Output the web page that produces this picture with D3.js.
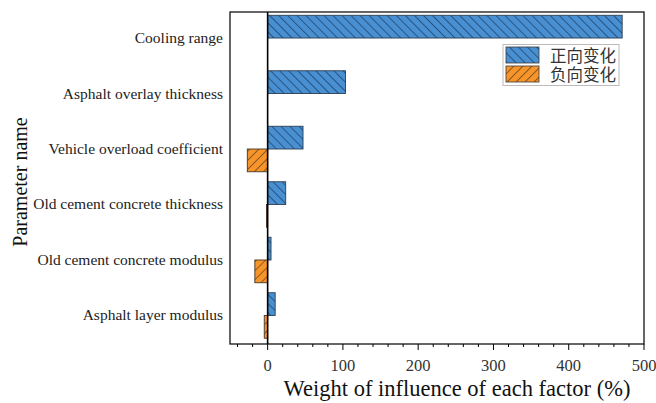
<!DOCTYPE html>
<html><head><meta charset="utf-8">
<script src="https://cdn.jsdelivr.net/npm/d3@7"></script>
<style>body{margin:0;background:#fff}</style>
</head><body>
<svg id="c" width="656" height="403"></svg>
<script>
const categories = ["Cooling range","Asphalt overlay thickness","Vehicle overload coefficient","Old cement concrete thickness","Old cement concrete modulus","Asphalt layer modulus"];
const positive = [471, 103.5, 47, 24, 4.5, 10];
const negative = [0, 0, -27, -1.5, -17, -4.5];
const xTicks = [0,100,200,300,400,500];
const seriesNames = ["正向变化","负向变化"];

const svg = d3.select("#c");
const L=230,R=644,T=12,B=344;
const x = d3.scaleLinear().domain([-50,500]).range([L,R]);
const y = d3.scaleBand().domain(categories).range([T+0.5,B-3]).paddingInner(0.18).paddingOuter(0.05);
const SERIF = "'Liberation Serif','Times New Roman',serif";

const defs = svg.append("defs");
function hatch(id,color,dir,lc){
  const w=6.4;
  const p = defs.append("pattern").attr("id",id).attr("patternUnits","userSpaceOnUse")
    .attr("width",w).attr("height",w).attr("patternTransform",`rotate(${dir})`);
  p.append("rect").attr("width",w).attr("height",w).attr("fill",color);
  p.append("line").attr("x1",0.5).attr("y1",0).attr("x2",0.5).attr("y2",w).attr("stroke",lc).attr("stroke-opacity",0.75).attr("stroke-width",0.9);
}
hatch("hb","#4890d2",-45,"#1a3558");
hatch("ho","#f7952a",45,"#5a3c18");

const g = svg.append("g");
const bh = y.bandwidth()/2;
g.selectAll(".p").data(categories).join("rect")
  .attr("x",x(0)).attr("y",d=>y(d))
  .attr("width",(d,i)=>x(positive[i])-x(0)).attr("height",bh)
  .attr("fill","url(#hb)").attr("stroke","#2d3e50").attr("stroke-width",0.9);
g.selectAll(".n").data(categories).join("rect")
  .attr("x",(d,i)=>x(negative[i])).attr("y",d=>y(d)+bh)
  .attr("width",(d,i)=>x(0)-x(negative[i])).attr("height",bh)
  .attr("fill","url(#ho)").attr("stroke","#45362a").attr("stroke-width",0.9)
  .attr("display",(d,i)=>negative[i]===0?"none":null);

svg.append("line").attr("x1",x(0)).attr("x2",x(0)).attr("y1",T).attr("y2",B).attr("stroke","#000").attr("stroke-width",1.6);
svg.append("rect").attr("x",L).attr("y",T).attr("width",R-L).attr("height",B-T).attr("fill","none").attr("stroke","#000").attr("stroke-width",1.2);

const xa = svg.append("g").attr("transform",`translate(0,${B})`);
const minor = d3.range(-40,501,20).filter(v=>v%100!==0);
xa.selectAll(".mi").data(minor).join("line").attr("x1",d=>x(d)).attr("x2",d=>x(d)).attr("y1",0).attr("y2",3).attr("stroke","#000");
xa.selectAll(".ma").data(xTicks).join("line").attr("x1",d=>x(d)).attr("x2",d=>x(d)).attr("y1",0).attr("y2",6).attr("stroke","#000");
xa.selectAll("text").data(xTicks).join("text").attr("x",d=>x(d)).attr("y",26.5)
  .attr("text-anchor","middle").attr("font-family",SERIF).attr("font-size",16.5).attr("fill","#333").text(d=>d);

svg.selectAll(".yl").data(categories).join("text").attr("x",223).attr("y",d=>y(d)+y.bandwidth()/2+5)
  .attr("text-anchor","end").attr("font-family",SERIF).attr("font-size",15.5).attr("fill","#222").text(d=>d);

svg.append("text").attr("x",457).attr("y",396).attr("text-anchor","middle")
  .attr("font-family",SERIF).attr("font-size",22.5).attr("fill","#111").text("Weight of influence of each factor (%)");
svg.append("text").attr("transform",`translate(27,182) rotate(-90)`).attr("text-anchor","middle")
  .attr("font-family",SERIF).attr("font-size",20).attr("fill","#111").text("Parameter name");

const lg = svg.append("g");
lg.append("rect").attr("x",503).attr("y",44.5).attr("width",116).attr("height",41).attr("fill","#fff").attr("stroke","#bbb").attr("stroke-width",1);
["url(#hb)","url(#ho)"].forEach((f,i)=>{
  lg.append("rect").attr("x",506).attr("y",47+i*19).attr("width",33).attr("height",16).attr("fill",f).attr("stroke","#3a3a3a").attr("stroke-width",0.8);
  lg.append("text").attr("x",550).attr("y",61.5+i*19).attr("font-family","Noto Sans CJK SC").attr("font-size",16.5).attr("fill","#333").text(seriesNames[i]);
});
</script>
</body></html>
